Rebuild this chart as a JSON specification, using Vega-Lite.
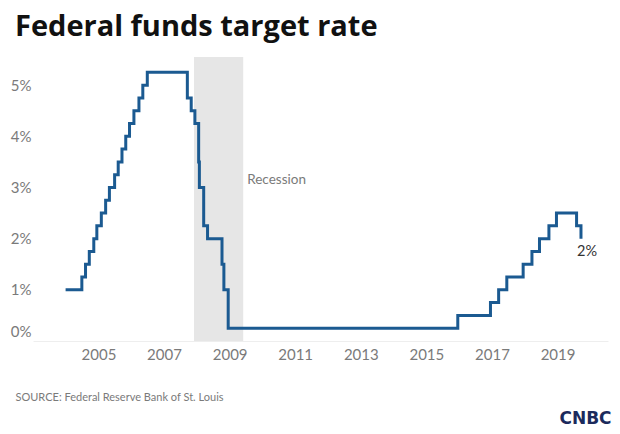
{
  "$schema": "https://vega.github.io/schema/vega-lite/v6.json",
  "width": 575,
  "height": 284,
  "autosize": {"type": "none"},
  "padding": {"left": 33, "top": 57, "right": 12, "bottom": 93},
  "background": "white",
  "config": {
    "view": {"stroke": null},
    "font": "Lato",
    "axis": {"labelFont": "Lato", "titleFont": "Lato", "grid": false, "ticks": false}
  },
  "title": {
    "text": "Federal funds target rate",
    "anchor": "start",
    "frame": "group",
    "font": "Open Sans",
    "fontSize": 29,
    "fontWeight": "bold",
    "color": "#111111",
    "dx": -18,
    "offset": 15
  },
  "datasets": {
    "rates": [
      {"date": "2004-01-01", "rate": 1.00},
      {"date": "2004-06-30", "rate": 1.25},
      {"date": "2004-08-10", "rate": 1.50},
      {"date": "2004-09-21", "rate": 1.75},
      {"date": "2004-11-10", "rate": 2.00},
      {"date": "2004-12-14", "rate": 2.25},
      {"date": "2005-02-02", "rate": 2.50},
      {"date": "2005-03-22", "rate": 2.75},
      {"date": "2005-05-03", "rate": 3.00},
      {"date": "2005-06-30", "rate": 3.25},
      {"date": "2005-08-09", "rate": 3.50},
      {"date": "2005-09-20", "rate": 3.75},
      {"date": "2005-11-01", "rate": 4.00},
      {"date": "2005-12-13", "rate": 4.25},
      {"date": "2006-01-31", "rate": 4.50},
      {"date": "2006-03-28", "rate": 4.75},
      {"date": "2006-05-10", "rate": 5.00},
      {"date": "2006-06-29", "rate": 5.25},
      {"date": "2007-09-18", "rate": 4.75},
      {"date": "2007-10-31", "rate": 4.50},
      {"date": "2007-12-11", "rate": 4.25},
      {"date": "2008-01-22", "rate": 3.50},
      {"date": "2008-01-30", "rate": 3.00},
      {"date": "2008-03-18", "rate": 2.25},
      {"date": "2008-04-30", "rate": 2.00},
      {"date": "2008-10-08", "rate": 1.50},
      {"date": "2008-10-29", "rate": 1.00},
      {"date": "2008-12-16", "rate": 0.25},
      {"date": "2015-12-17", "rate": 0.50},
      {"date": "2016-12-15", "rate": 0.75},
      {"date": "2017-03-16", "rate": 1.00},
      {"date": "2017-06-15", "rate": 1.25},
      {"date": "2017-12-14", "rate": 1.50},
      {"date": "2018-03-22", "rate": 1.75},
      {"date": "2018-06-14", "rate": 2.00},
      {"date": "2018-09-27", "rate": 2.25},
      {"date": "2018-12-20", "rate": 2.50},
      {"date": "2019-08-01", "rate": 2.25},
      {"date": "2019-09-19", "rate": 2.00}
    ]
  },
  "layer": [
    {
      "data": {"values": [{"date": "2007-12-01", "date_end": "2009-06-01"}]},
      "mark": {"type": "rect", "color": "#e6e6e6"},
      "encoding": {
        "x": {"field": "date", "type": "temporal", "title": "SOURCE: Federal Reserve Bank of St. Louis"},
        "x2": {"field": "date_end"}
      }
    },
    {
      "data": {"name": "rates"},
      "mark": {"type": "line", "interpolate": "step-after", "color": "#1b5a91", "strokeWidth": 3},
      "encoding": {
        "x": {
          "field": "date",
          "type": "temporal",
          "title": "SOURCE: Federal Reserve Bank of St. Louis",
          "scale": {
            "type": "utc",
            "domain": [
              {"year": 2003, "month": 1, "date": 3, "utc": true},
              {"year": 2020, "month": 7, "date": 16, "utc": true}
            ]
          },
          "axis": {
            "values": [
              {"year": 2005, "utc": true},
              {"year": 2007, "utc": true},
              {"year": 2009, "utc": true},
              {"year": 2011, "utc": true},
              {"year": 2013, "utc": true},
              {"year": 2015, "utc": true},
              {"year": 2017, "utc": true},
              {"year": 2019, "utc": true}
            ],
            "format": "%Y",
            "formatType": "utc",
            "labelFontSize": 15,
            "labelColor": "#7a7a7a",
            "labelPadding": 6,
            "domain": true,
            "domainColor": "#eeeeee",
            "domainWidth": 1,
            "titleFontSize": 11,
            "titleFontWeight": "normal",
            "titleColor": "#7a7a7a",
            "titleAlign": "left",
            "titleBaseline": "middle",
            "titleX": -18,
            "titleY": 56
          }
        },
        "y": {
          "field": "rate",
          "type": "quantitative",
          "scale": {"domain": [0, 5.55], "nice": false, "zero": true},
          "axis": {
            "orient": "left",
            "values": [0, 1, 2, 3, 4, 5],
            "labelExpr": "datum.value + '%'",
            "labelFontSize": 15,
            "labelColor": "#7a7a7a",
            "labelPadding": 2,
            "labelOffset": {"condition": {"test": "datum.value === 0", "value": -10}, "value": 0},
            "domain": false,
            "title": null
          }
        }
      }
    },
    {
      "data": {"values": [{"date": "2009-06-01", "rate": 3.15, "label": "Recession"}]},
      "mark": {"type": "text", "align": "left", "baseline": "middle", "dx": 4, "fontSize": 13.5, "color": "#7a7a7a", "font": "Lato"},
      "encoding": {
        "x": {"field": "date", "type": "temporal", "title": "SOURCE: Federal Reserve Bank of St. Louis"},
        "y": {
          "field": "rate",
          "type": "quantitative",
          "axis": {
            "orient": "right",
            "labels": false,
            "ticks": false,
            "domain": false,
            "grid": false,
            "title": "CNBC",
            "titleAngle": 0,
            "titleAlign": "center",
            "titleBaseline": "middle",
            "titleX": -23,
            "titleY": 361,
            "titleFont": "DejaVu Sans",
            "titleFontSize": 17,
            "titleFontWeight": 900,
            "titleColor": "#1b2a5c"
          }
        },
        "text": {"field": "label"}
      }
    },
    {
      "data": {"values": [{"date": "2019-09-19", "rate": 2.0, "label": "2%"}]},
      "mark": {"type": "text", "align": "left", "baseline": "middle", "dx": -4, "dy": 13, "fontSize": 14.5, "color": "#333333", "font": "Lato"},
      "encoding": {
        "x": {"field": "date", "type": "temporal", "title": "SOURCE: Federal Reserve Bank of St. Louis"},
        "y": {"field": "rate", "type": "quantitative", "axis": null},
        "text": {"field": "label"}
      }
    }
  ],
  "resolve": {"axis": {"y": "independent"}}
}
